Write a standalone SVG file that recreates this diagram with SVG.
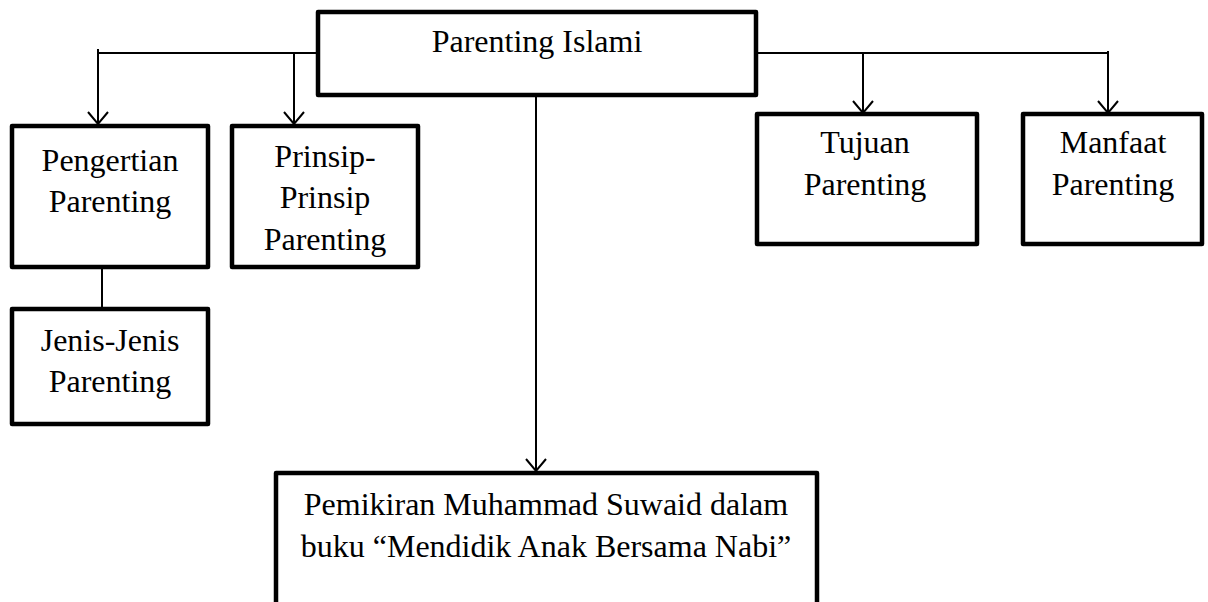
<svg xmlns="http://www.w3.org/2000/svg" width="1208" height="602" viewBox="0 0 1208 602">
  <style>
    .box { fill: #ffffff; stroke: #000000; stroke-width: 4.5; stroke-linejoin: round; }
    .lbl { font-family: "Liberation Serif", "Times New Roman", serif; font-size: 32px; fill: #000000; text-anchor: middle; }
    .conn { fill: none; stroke: #000000; stroke-width: 2; }
  </style>
  <defs>
    <marker id="arr" viewBox="-15 -15 30 30" refX="0" refY="0" markerWidth="30" markerHeight="30" markerUnits="userSpaceOnUse" orient="auto">
      <path d="M-12,-10 L0,0 L-12,10" fill="none" stroke="#000000" stroke-width="2"/>
    </marker>
  </defs>
  <rect width="1208" height="602" fill="#ffffff"/>
  <g id="connectors">
    <path class="conn" d="M98,53 H318"/>
    <path class="conn" d="M98,49 V124" marker-end="url(#arr)"/>
    <path class="conn" d="M294,53 V124" marker-end="url(#arr)"/>
    <path class="conn" d="M756,53 H1108"/>
    <path class="conn" d="M863,53 V113" marker-end="url(#arr)"/>
    <path class="conn" d="M1108,51 V113" marker-end="url(#arr)"/>
    <path class="conn" d="M536,95 V471" marker-end="url(#arr)"/>
    <path class="conn" d="M102,268 V309"/>
  </g>
  <g id="node-parenting-islami">
    <rect class="box" x="318" y="12" width="438" height="83"/>
    <text class="lbl" x="537" y="52">Parenting Islami</text>
  </g>
  <g id="node-pengertian">
    <rect class="box" x="12" y="126" width="196" height="141"/>
    <text class="lbl" x="110" y="171">Pengertian</text>
    <text class="lbl" x="110" y="212">Parenting</text>
  </g>
  <g id="node-prinsip">
    <rect class="box" x="232" y="126" width="186" height="141"/>
    <text class="lbl" x="325" y="167">Prinsip-</text>
    <text class="lbl" x="325" y="208">Prinsip</text>
    <text class="lbl" x="325" y="250">Parenting</text>
  </g>
  <g id="node-jenis">
    <rect class="box" x="12" y="309" width="196" height="115"/>
    <text class="lbl" x="110" y="351">Jenis-Jenis</text>
    <text class="lbl" x="110" y="392">Parenting</text>
  </g>
  <g id="node-tujuan">
    <rect class="box" x="757" y="114" width="220" height="130"/>
    <text class="lbl" x="865" y="153">Tujuan</text>
    <text class="lbl" x="865" y="195">Parenting</text>
  </g>
  <g id="node-manfaat">
    <rect class="box" x="1023" y="114" width="179" height="130"/>
    <text class="lbl" x="1113" y="153">Manfaat</text>
    <text class="lbl" x="1113" y="195">Parenting</text>
  </g>
  <g id="node-pemikiran">
    <rect class="box" x="276" y="473" width="541" height="134"/>
    <text class="lbl" x="546" y="515">Pemikiran Muhammad Suwaid dalam</text>
    <text class="lbl" x="546" y="557">buku “Mendidik Anak Bersama Nabi”</text>
  </g>
</svg>
